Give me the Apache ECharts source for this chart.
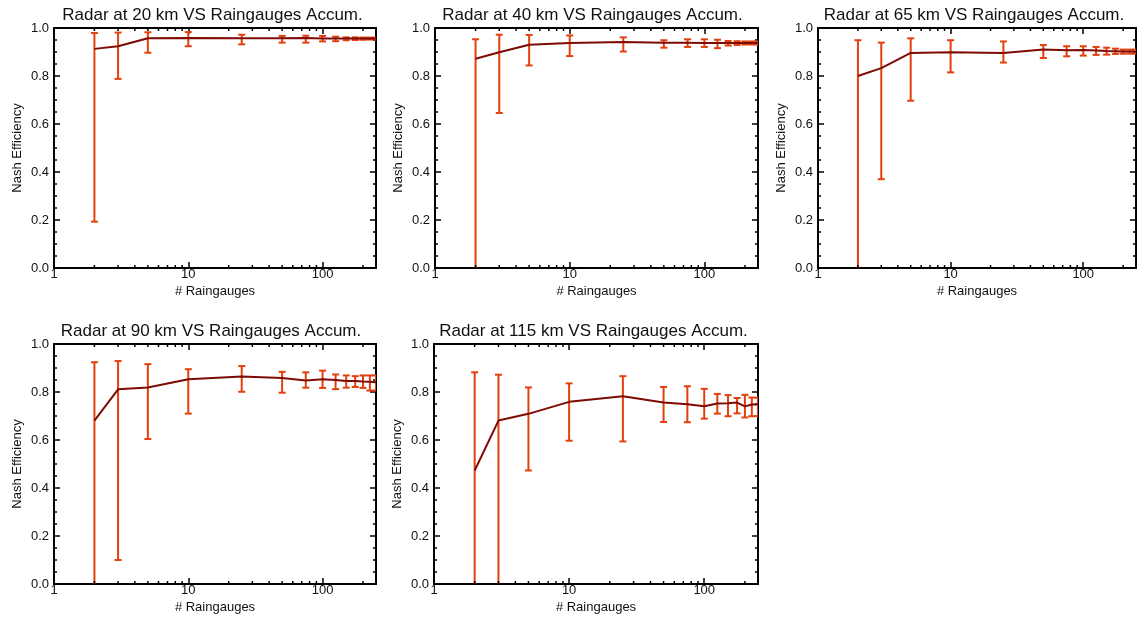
<!DOCTYPE html>
<html>
<head>
<meta charset="utf-8">
<script src="https://cdn.jsdelivr.net/npm/echarts@6/dist/echarts.min.js"></script>
<style>
html,body{margin:0;padding:0;background:#fff;}
#chart{width:1139px;height:624px;}
</style>
</head>
<body>
<div id="chart"></div>
<script>
// ---------- data ----------
const gauges = [2, 3, 5, 10, 25, 50, 75, 100, 125, 150, 175, 200, 225, 250];
const xTickLabels = [1, 10, 100];
const minorXTicks = [2, 3, 4, 5, 6, 7, 8, 9, 20, 30, 40, 50, 60, 70, 80, 90, 200];
const titles = [
  'Radar at 20 km VS Raingauges Accum.',
  'Radar at 40 km VS Raingauges Accum.',
  'Radar at 65 km VS Raingauges Accum.',
  'Radar at 90 km VS Raingauges Accum.',
  'Radar at 115 km VS Raingauges Accum.'
];

const nash20 = [0.913, 0.924, 0.957, 0.958, 0.957, 0.957, 0.958, 0.956, 0.956, 0.956, 0.956, 0.956, 0.956, 0.956];
const hi20   = [0.979, 0.981, 0.982, 0.983, 0.972, 0.967, 0.968, 0.967, 0.964, 0.961, 0.961, 0.960, 0.960, 0.960];
const lo20   = [0.193, 0.788, 0.897, 0.924, 0.932, 0.939, 0.939, 0.944, 0.945, 0.949, 0.950, 0.951, 0.952, 0.952];

const nash40 = [0.872, 0.899, 0.930, 0.938, 0.942, 0.939, 0.939, 0.938, 0.938, 0.938, 0.938, 0.938, 0.938, 0.938];
const hi40   = [0.953, 0.972, 0.971, 0.969, 0.961, 0.949, 0.953, 0.953, 0.951, 0.946, 0.945, 0.944, 0.944, 0.944];
const lo40   = [-0.5, 0.646, 0.844, 0.883, 0.902, 0.918, 0.921, 0.921, 0.916, 0.927, 0.929, 0.931, 0.931, 0.931];

const nash65 = [0.800, 0.833, 0.896, 0.899, 0.896, 0.910, 0.907, 0.908, 0.906, 0.904, 0.903, 0.902, 0.902, 0.902];
const hi65   = [0.949, 0.939, 0.957, 0.949, 0.944, 0.929, 0.924, 0.924, 0.921, 0.918, 0.914, 0.910, 0.910, 0.910];
const lo65   = [-0.5, 0.370, 0.697, 0.815, 0.856, 0.875, 0.882, 0.885, 0.888, 0.889, 0.892, 0.893, 0.893, 0.893];

const nash90 = [0.681, 0.811, 0.819, 0.853, 0.865, 0.858, 0.848, 0.853, 0.850, 0.846, 0.846, 0.844, 0.843, 0.841];
const hi90   = [0.924, 0.929, 0.916, 0.895, 0.908, 0.884, 0.882, 0.889, 0.873, 0.869, 0.866, 0.869, 0.869, 0.869];
const lo90   = [-0.5, 0.100, 0.604, 0.710, 0.801, 0.797, 0.818, 0.817, 0.812, 0.818, 0.821, 0.817, 0.806, 0.806];

const nash115 = [0.473, 0.681, 0.709, 0.759, 0.782, 0.756, 0.749, 0.741, 0.752, 0.753, 0.756, 0.740, 0.748, 0.748];
const hi115   = [0.882, 0.872, 0.819, 0.836, 0.866, 0.821, 0.824, 0.813, 0.792, 0.787, 0.775, 0.788, 0.777, 0.776];
const lo115   = [-0.5, -0.5, 0.473, 0.597, 0.594, 0.675, 0.674, 0.689, 0.710, 0.699, 0.711, 0.694, 0.699, 0.700];

const panelsData = [
  [nash20, lo20, hi20],
  [nash40, lo40, hi40],
  [nash65, lo65, hi65],
  [nash90, lo90, hi90],
  [nash115, lo115, hi115]
];

// ---------- layout & style ----------
const layout = [
  {left: 54, top: 28, width: 322, height: 240, tx: 212.5, ty: 15},
  {left: 435, top: 28, width: 323, height: 240, tx: 592.5, ty: 15},
  {left: 818, top: 28, width: 322, height: 240, tx: 974, ty: 15},
  {left: 54, top: 344, width: 322, height: 240, tx: 211, ty: 331},
  {left: 434, top: 344, width: 324, height: 240, tx: 593.5, ty: 331}
];
const FONT = 'Liberation Sans, Arial, Helvetica, sans-serif';
const LINE_COLOR = '#7d0a04';
const ERR_COLOR = '#e2400e';
const AXIS_COLOR = '#000';

const grids = [], xAxes = [], yAxes = [], series = [], graphics = [];

function logLabel(v) {
  const l = Math.log10(v);
  return Math.abs(l - Math.round(l)) < 1e-6 && xTickLabels.indexOf(Math.round(v)) >= 0 ? String(Math.round(v)) : '';
}

panelsData.forEach(function (pd, i) {
  const L = layout[i];
  grids.push({left: L.left, top: L.top, width: L.width, height: L.height, containLabel: false});
  const xb = xAxes.length;
  const baseX = {
    type: 'log', logBase: 10, min: 1, max: 250, gridIndex: i,
    axisLine: {show: true, onZero: false, lineStyle: {color: AXIS_COLOR, width: 2}},
    axisTick: {show: true, inside: true, length: 6, lineStyle: {color: AXIS_COLOR, width: 1.5}},
    splitLine: {show: false}, minorTick: {show: false}, minorSplitLine: {show: false}
  };
  xAxes.push(Object.assign({}, baseX, {
    position: 'bottom',
    axisLabel: {show: true, formatter: logLabel, color: '#111', fontFamily: FONT, fontSize: 13, margin: 0},
    name: '# Raingauges', nameLocation: 'middle', nameGap: 17,
    nameTextStyle: {color: '#111', fontFamily: FONT, fontSize: 13}
  }));
  xAxes.push(Object.assign({}, baseX, {position: 'top', axisLabel: {show: false}}));
  const yb = yAxes.length;
  const baseY = {
    type: 'value', min: 0, max: 1, interval: 0.2, gridIndex: i,
    axisLine: {show: true, onZero: false, lineStyle: {color: AXIS_COLOR, width: 2}},
    axisTick: {show: true, inside: true, length: 6, lineStyle: {color: AXIS_COLOR, width: 1.5}},
    minorTick: {show: true, splitNumber: 4, length: 3, lineStyle: {color: AXIS_COLOR, width: 1.5}},
    splitLine: {show: false}, minorSplitLine: {show: false}
  };
  yAxes.push(Object.assign({}, baseY, {
    position: 'left',
    axisLabel: {show: true, formatter: function (v) { return v.toFixed(1); }, color: '#111', fontFamily: FONT, fontSize: 13, margin: 5},
    name: 'Nash Efficiency', nameLocation: 'middle', nameGap: 30,
    nameTextStyle: {color: '#111', fontFamily: FONT, fontSize: 13}
  }));
  yAxes.push(Object.assign({}, baseY, {position: 'right', axisLabel: {show: false}}));

  const mean = pd[0], lo = pd[1], hi = pd[2];
  series.push({
    type: 'custom', xAxisIndex: xb, yAxisIndex: yb, clip: true, z: 3,
    data: gauges.map(function (g, k) { return [g, lo[k], hi[k]]; }),
    encode: {x: 0, y: [1, 2]},
    renderItem: function (params, api) {
      const x = api.value(0);
      const top = api.coord([x, api.value(2)]);
      const bot = api.coord([x, api.value(1)]);
      const w = 3.5;
      const st = {stroke: ERR_COLOR, lineWidth: 2, fill: null};
      return {type: 'group', children: [
        {type: 'line', shape: {x1: top[0], y1: top[1], x2: bot[0], y2: bot[1]}, style: st},
        {type: 'line', shape: {x1: top[0] - w, y1: top[1], x2: top[0] + w, y2: top[1]}, style: st},
        {type: 'line', shape: {x1: bot[0] - w, y1: bot[1], x2: bot[0] + w, y2: bot[1]}, style: st}
      ]};
    }
  });
  series.push({
    type: 'line', xAxisIndex: xb, yAxisIndex: yb, clip: true, z: 4,
    data: gauges.map(function (g, k) { return [g, mean[k]]; }),
    symbol: 'none', lineStyle: {color: LINE_COLOR, width: 2}
  });
  // minor log ticks (2..9 per decade) on bottom and top frame
  series.push({
    type: 'custom', xAxisIndex: xb, yAxisIndex: yb, clip: false, z: 5, silent: true,
    data: minorXTicks.map(function (v) { return [v, 0]; }),
    renderItem: function (params, api) {
      const v = api.value(0);
      const b = api.coord([v, 0]);
      const t = api.coord([v, 1]);
      const st = {stroke: AXIS_COLOR, lineWidth: 1.5};
      return {type: 'group', children: [
        {type: 'line', shape: {x1: b[0], y1: b[1], x2: b[0], y2: b[1] - 3}, style: st},
        {type: 'line', shape: {x1: t[0], y1: t[1], x2: t[0], y2: t[1] + 3}, style: st}
      ]};
    }
  });
  graphics.push({
    type: 'text', x: L.tx, y: L.ty,
    style: {text: titles[i], fill: '#111', font: '17px ' + FONT, textAlign: 'center', textVerticalAlign: 'middle'}
  });
});

const chart = echarts.init(document.getElementById('chart'), null, {renderer: 'canvas'});
chart.setOption({
  animation: false,
  backgroundColor: '#fff',
  grid: grids,
  xAxis: xAxes,
  yAxis: yAxes,
  series: series,
  graphic: graphics
});
</script>
</body>
</html>
